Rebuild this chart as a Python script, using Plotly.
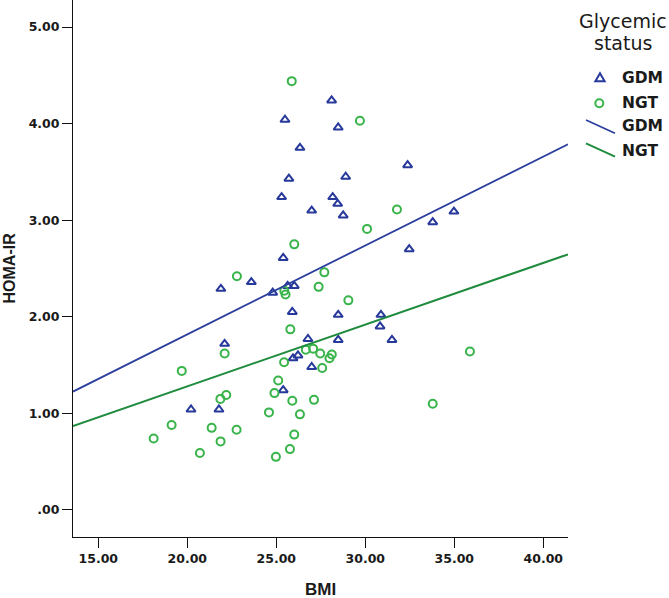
import plotly.graph_objects as go

# ---- data ----
gdm_bmi = [28.11, 25.49, 28.48, 26.33, 25.71, 28.90, 32.38, 25.30, 28.17, 28.45,
           26.99, 28.76, 34.98, 33.79, 32.47, 25.39, 23.60, 21.89, 24.80, 25.64,
           26.01, 25.90, 28.48, 30.88, 30.83, 22.10, 26.78, 28.48, 31.50, 25.94,
           26.22, 26.99, 25.39, 20.21, 21.78]
gdm_homa = [4.24, 4.04, 3.96, 3.75, 3.43, 3.45, 3.57, 3.24, 3.24, 3.17,
            3.10, 3.05, 3.09, 2.98, 2.70, 2.61, 2.36, 2.29, 2.25, 2.32,
            2.32, 2.05, 2.02, 2.02, 1.90, 1.72, 1.77, 1.76, 1.76, 1.57,
            1.60, 1.48, 1.24, 1.04, 1.04]

ngt_bmi = [25.87, 29.70, 26.01, 31.78, 30.10, 27.70, 22.79, 27.38, 29.05, 25.45,
           25.52, 25.79, 22.10, 26.66, 27.07, 27.47, 28.12, 27.99, 25.44, 27.58,
           35.88, 19.69, 25.11, 24.90, 22.19, 21.86, 25.90, 27.12, 33.79, 24.59,
           26.33, 19.12, 21.37, 22.77, 18.11, 21.87, 20.71, 26.01, 25.77, 24.98]
ngt_homa = [4.44, 4.03, 2.75, 3.11, 2.91, 2.46, 2.42, 2.31, 2.17, 2.27,
            2.23, 1.87, 1.62, 1.66, 1.67, 1.62, 1.61, 1.57, 1.53, 1.47,
            1.64, 1.44, 1.34, 1.21, 1.19, 1.15, 1.13, 1.14, 1.10, 1.01,
            0.99, 0.88, 0.85, 0.83, 0.74, 0.71, 0.59, 0.78, 0.63, 0.55]

# fit lines (intercept, slope)
gdm_fit = (-0.025, 0.0921)
ngt_fit = (0.002, 0.0639)

x_tick_vals = [15, 20, 25, 30, 35, 40]
x_tick_text = ["15.00", "20.00", "25.00", "30.00", "35.00", "40.00"]
y_tick_vals = [0, 1, 2, 3, 4, 5]
y_tick_text = [".00", "1.00", "2.00", "3.00", "4.00", "5.00"]

group_names = ["GDM", "NGT"]
legend_title = ["Glycemic", "status"]

# ---- styling ----
W, H = 669, 598
ML, MR, MT, MB = 73, 101, 0, 61
PW, PH = W - ML - MR, H - MT - MB
XR = [13.58, 41.39]
YR = [-0.28, 5.28]

BLUE_M = "#27399A"
BLUE_L = "#2A3E9E"
GREEN_M = "#39B44A"
GREEN_L = "#1F8B3D"


def pxx(xp):
    return (xp - ML) / PW


def pyy(yp):
    return (MT + PH - yp) / PH


fig = go.Figure()

fig.add_trace(go.Scatter(
    x=gdm_bmi, y=gdm_homa, mode="markers", name=group_names[0],
    marker=dict(symbol="triangle-up-open", size=8, color=BLUE_M,
                line=dict(width=2, color=BLUE_M)),
    showlegend=False))
fig.add_trace(go.Scatter(
    x=ngt_bmi, y=ngt_homa, mode="markers", name=group_names[1],
    marker=dict(symbol="circle-open", size=8, color=GREEN_M,
                line=dict(width=2, color=GREEN_M)),
    showlegend=False))

for (b0, b1), col, wid, nm in [(gdm_fit, BLUE_L, 1.8, group_names[0]),
                               (ngt_fit, GREEN_L, 2, group_names[1])]:
    fig.add_trace(go.Scatter(
        x=XR, y=[b0 + b1 * XR[0], b0 + b1 * XR[1]], mode="lines", name=nm,
        line=dict(color=col, width=wid), showlegend=False, cliponaxis=False))

axis_common = dict(
    showline=True, linecolor="#111111", linewidth=1, mirror=False,
    ticks="outside", ticklen=10, tickwidth=1, tickcolor="#111111",
    showgrid=False, zeroline=False,
    tickfont=dict(family="DejaVu Sans", size=12.5, color="#1a1a1a", weight="bold"),
)

fig.update_xaxes(range=XR, tickmode="array", tickvals=x_tick_vals,
                 ticktext=x_tick_text, **axis_common)
fig.update_yaxes(range=YR, tickmode="array", tickvals=y_tick_vals,
                 ticktext=y_tick_text, **axis_common)

annotations = [
    dict(text="BMI", xref="paper", yref="paper", x=0.5, y=0, xanchor="center",
         yanchor="top", yshift=-41, showarrow=False,
         font=dict(family="Liberation Sans", size=17, color="#1a1a1a", weight="bold")),
    dict(text="HOMA-IR", xref="paper", yref="paper", x=0, y=0.5, xanchor="center",
         yanchor="middle", xshift=-64, textangle=-90, showarrow=False,
         font=dict(family="Liberation Sans", size=16, color="#1a1a1a", weight="bold")),
    dict(text=legend_title[0], xref="paper", yref="paper", x=pxx(623), y=pyy(21),
         xanchor="center", yanchor="middle", showarrow=False,
         font=dict(family="DejaVu Sans", size=19, color="#1a1a1a")),
    dict(text=legend_title[1], xref="paper", yref="paper", x=pxx(623), y=pyy(43),
         xanchor="center", yanchor="middle", showarrow=False,
         font=dict(family="DejaVu Sans", size=19, color="#1a1a1a")),
]
label_rows = [77.7, 103.3, 126, 151]
for lbl, row in zip(group_names + group_names, label_rows):
    annotations.append(dict(
        text=lbl, xref="paper", yref="paper", x=pxx(620), y=pyy(row),
        xanchor="left", yanchor="middle", showarrow=False,
        font=dict(family="DejaVu Sans", size=15.5, color="#1a1a1a", weight="bold")))

# legend symbols
cx, cy = 600, 77.7
tri = (f"M {pxx(cx)} {pyy(cy - 4.5)} L {pxx(cx + 4.6)} {pyy(cy + 3.5)} "
       f"L {pxx(cx - 4.6)} {pyy(cy + 3.5)} Z")
shapes = [
    dict(type="path", xref="paper", yref="paper", path=tri,
         line=dict(color=BLUE_M, width=2)),
    dict(type="circle", xref="paper", yref="paper",
         x0=pxx(599.3 - 4), x1=pxx(599.3 + 4), y0=pyy(103.3 + 4), y1=pyy(103.3 - 4),
         line=dict(color=GREEN_M, width=2)),
    dict(type="line", xref="paper", yref="paper",
         x0=pxx(586), y0=pyy(120), x1=pxx(615), y1=pyy(133.3),
         line=dict(color=BLUE_L, width=1.8)),
    dict(type="line", xref="paper", yref="paper",
         x0=pxx(586), y0=pyy(143.3), x1=pxx(615), y1=pyy(156.7),
         line=dict(color=GREEN_L, width=2)),
]

fig.update_layout(
    width=W, height=H,
    margin=dict(l=ML, r=MR, t=MT, b=MB, pad=0),
    paper_bgcolor="white", plot_bgcolor="white",
    showlegend=False,
    annotations=annotations, shapes=shapes,
)

fig.write_html(
    "out.html",
    config={"displayModeBar": False},
    post_script="document.body.style.margin='0';document.body.style.padding='0';"
                "document.body.style.overflow='hidden';",
)
